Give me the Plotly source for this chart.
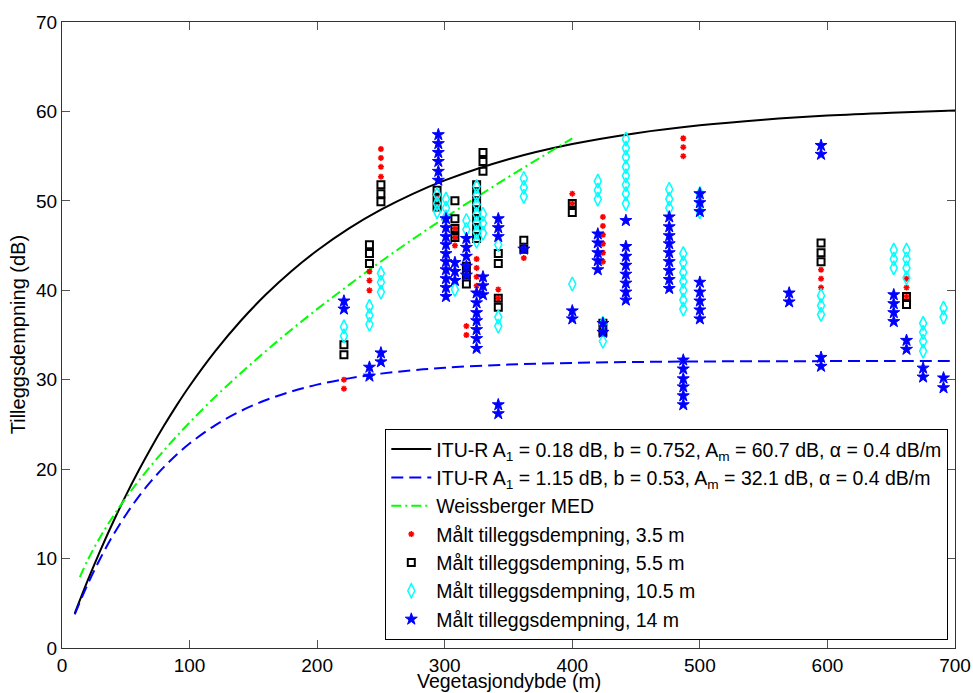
import plotly.graph_objects as go

# ---- model curves ----
itu_d = [10, 20, 30, 40, 50, 60, 70, 80, 90, 100, 120, 140, 160, 180, 200, 225, 250,
         275, 300, 350, 400, 450, 500, 550, 600, 650, 700]
itu1_a = [3.87, 7.50, 10.89, 14.06, 17.04, 19.82, 22.43, 24.87, 27.16, 29.30, 33.17, 36.57,
          39.55, 42.16, 44.45, 46.92, 49.01, 50.79, 52.29, 54.65, 56.35, 57.57, 58.45, 59.08,
          59.54, 59.86, 60.10]
itu2_a = [3.76, 7.08, 10.01, 12.60, 14.88, 16.90, 18.68, 20.25, 21.64, 22.87, 24.90, 26.49,
          27.73, 28.69, 29.45, 30.15, 30.68, 31.06, 31.34, 31.69, 31.88, 31.98, 32.04, 32.07,
          32.08, 32.09, 32.09]
weis_d = [14, 20, 30, 40, 50, 60, 80, 100, 125, 150, 175, 200, 225, 250, 275, 300, 325, 350, 375, 400]
weis_a = [7.93, 9.79, 12.42, 14.71, 16.77, 18.67, 22.11, 25.21, 28.75, 31.99, 35.03, 37.89,
          40.61, 43.22, 45.71, 48.10, 50.41, 52.67, 54.84, 56.99]

# ---- measurements: {depth: [values]} ----
red_35 = {
    221: [30.0, 29.0], 241: [42.1, 41.1, 40.0], 250: [55.8, 54.8, 53.8, 52.7],
    294: [50.3, 49.3], 308: [46.9, 45.9, 45.0], 317: [36.0, 35.0],
    325: [43.5, 42.5, 41.5, 40.5], 342: [40.1, 39.1], 362: [43.6], 400: [50.8, 49.7],
    424: [48.2, 47.2, 46.2, 45.2, 44.2, 43.2], 487: [57.0, 56.0, 55.0],
    595: [42.3, 41.3, 40.3], 662: [41.3, 40.3, 39.3],
}
black_55 = {
    221: [33.9, 32.8], 241: [45.1, 44.1, 43.0], 250: [51.8, 50.8, 49.9],
    294: [51.2, 50.3, 49.3], 308: [50.0, 48.0, 46.9, 45.9], 317: [42.7, 41.7, 40.7],
    325: [51.8, 50.8, 49.8, 48.8, 47.8, 46.8, 45.8], 330: [55.4, 54.4, 53.3],
    342: [44.1, 43.0, 39.1, 38.1], 362: [45.6, 44.6], 400: [49.7, 48.7], 424: [36.3, 35.3],
    595: [45.3, 44.2, 43.2], 662: [39.3, 38.4],
}
cyan_105 = {
    221: [35.9, 34.9], 241: [38.2, 37.2, 36.2], 250: [41.9, 40.9, 39.8],
    294: [50.7, 49.7, 48.8], 301: [50.2, 49.2, 48.2], 308: [40.1], 317: [47.8, 46.8],
    325: [51.6, 50.6, 49.6, 48.5, 47.5, 46.5, 45.5], 330: [48.5, 47.5, 46.4],
    342: [45.1, 37.0, 36.0], 362: [52.5, 51.5, 50.5], 400: [40.7], 420: [52.2, 51.2, 50.2],
    424: [36.3, 34.3], 442: [56.9, 55.9, 54.9, 53.8, 52.8, 51.8, 50.8, 49.7],
    476: [51.3, 50.2, 49.2], 487: [44.1, 43.1, 42.0, 41.0, 40.0, 38.9, 37.9],
    500: [50.8, 49.8, 48.8], 595: [39.4, 38.3, 37.3], 652: [44.5, 43.5, 42.5],
    662: [44.5, 43.5, 42.5, 41.4], 675: [36.3, 35.3, 34.3, 33.2], 691: [38.0, 37.0],
}
blue_14 = {
    221: [38.8, 37.9], 241: [31.4, 30.4], 250: [33.0, 32.0],
    295: [57.4, 56.4, 55.4, 54.4, 53.3, 52.3],
    301: [48.0, 47.0, 46.0, 45.1, 44.1, 43.2, 42.3, 41.3, 40.3, 39.3],
    308: [43.1, 42.1, 41.1], 317: [45.8, 44.8, 43.8, 42.7, 41.7],
    325: [39.7, 38.6, 37.5, 36.6, 35.6, 34.6, 33.5], 330: [41.5, 40.5, 39.5],
    342: [48.0, 47.0, 46.0, 27.2, 26.2], 362: [44.6], 400: [37.7, 36.8],
    420: [46.3, 45.3, 44.2, 43.3, 42.3], 424: [36.3, 35.3],
    442: [47.8, 44.9, 43.8, 42.8, 41.8, 40.8, 39.8, 38.9],
    476: [48.2, 47.1, 46.1, 45.2, 44.2, 43.2, 42.2, 41.2, 40.2],
    487: [32.2, 31.2, 30.1, 29.2, 28.2, 27.2],
    500: [50.8, 49.8, 48.8, 40.9, 39.8, 38.8, 37.8, 36.8], 570: [39.7, 38.7],
    595: [56.2, 55.2, 32.5, 31.5], 652: [39.5, 38.5, 37.5, 36.5], 662: [34.4, 33.4],
    675: [31.3, 30.3], 691: [30.2, 29.1],
}

x_ticks = [0, 100, 200, 300, 400, 500, 600, 700]
y_ticks = [0, 10, 20, 30, 40, 50, 60, 70]
x_title = "Vegetasjondybde (m)"
y_title = "Tilleggsdempning (dB)"


def flat(d):
    xs, ys = [], []
    for k, vals in d.items():
        for v in vals:
            xs.append(k)
            ys.append(v)
    return xs, ys


FONT = "Liberation Sans, Arial, sans-serif"
fig = go.Figure()

fig.add_trace(go.Scatter(
    x=itu_d, y=itu1_a, mode="lines", line=dict(color="black", width=2, shape="spline"),
    name="ITU-R A<sub>1</sub> = 0.18 dB, b = 0.752, A<sub>m</sub> = 60.7 dB, α = 0.4 dB/m"))
fig.add_trace(go.Scatter(
    x=itu_d, y=itu2_a, mode="lines",
    line=dict(color="#0000ff", width=2, dash="12px,6px", shape="spline"),
    name="ITU-R A<sub>1</sub> = 1.15 dB, b = 0.53, A<sub>m</sub> = 32.1 dB, α = 0.4 dB/m"))
fig.add_trace(go.Scatter(
    x=weis_d, y=weis_a, mode="lines",
    line=dict(color="#00ff00", width=2, dash="10px,4px,2px,4px", shape="spline"),
    name="Weissberger MED"))

xs, ys = flat(red_35)
fig.add_trace(go.Scatter(
    x=xs, y=ys, mode="markers", name="Målt tilleggsdempning, 3.5 m",
    marker=dict(symbol="asterisk-open", size=5, color="red", line=dict(color="red", width=1.5))))
xs, ys = flat(black_55)
fig.add_trace(go.Scatter(
    x=xs, y=ys, mode="markers", name="Målt tilleggsdempning, 5.5 m",
    marker=dict(symbol="square-open", size=7, color="black", line=dict(color="black", width=2))))
xs, ys = flat(cyan_105)
fig.add_trace(go.Scatter(
    x=xs, y=ys, mode="markers", name="Målt tilleggsdempning, 10.5 m",
    marker=dict(symbol="diamond-tall-open", size=10, color="#00ffff",
                line=dict(color="#00ffff", width=1.5))))
xs, ys = flat(blue_14)
fig.add_trace(go.Scatter(
    x=xs, y=ys, mode="markers", name="Målt tilleggsdempning, 14 m",
    marker=dict(symbol="star", size=9, color="#0000ff", line=dict(color="#0000ff", width=1))))

axis_common = dict(
    showgrid=False, zeroline=False, showline=True, linecolor="#333333", linewidth=1,
    mirror="ticks", ticks="inside", ticklen=8, tickcolor="#555555", automargin=False,
    tickfont=dict(family=FONT, size=19, color="black"),
)
fig.update_xaxes(range=[0, 700], tickvals=x_ticks, ticktext=[str(v) for v in x_ticks],
                 **axis_common)
fig.update_yaxes(range=[0, 70], tickvals=y_ticks, ticktext=[str(v) for v in y_ticks],
                 **axis_common)

# axis titles placed as in the reference
fig.add_annotation(text=x_title, xref="paper", yref="paper", x=0.5, y=-0.053,
                   xanchor="center", yanchor="middle", showarrow=False,
                   font=dict(family=FONT, size=19.5, color="black"))
fig.add_annotation(text=y_title, xref="paper", yref="paper", x=-0.049, y=0.5,
                   xanchor="center", yanchor="middle", textangle=-90, showarrow=False,
                   font=dict(family=FONT, size=20, color="black"))

fig.update_layout(
    width=973, height=693,
    margin=dict(l=62, r=18, t=22, b=45),
    paper_bgcolor="white", plot_bgcolor="white",
    font=dict(family=FONT, size=19, color="black"),
    showlegend=True,
    legend=dict(x=0.9925, y=0.013, xanchor="right", yanchor="bottom",
                bgcolor="white", bordercolor="black", borderwidth=1,
                font=dict(family=FONT, size=19.5, color="black"),
                tracegroupgap=0, itemwidth=40),
)

fig.write_html("out.html")
